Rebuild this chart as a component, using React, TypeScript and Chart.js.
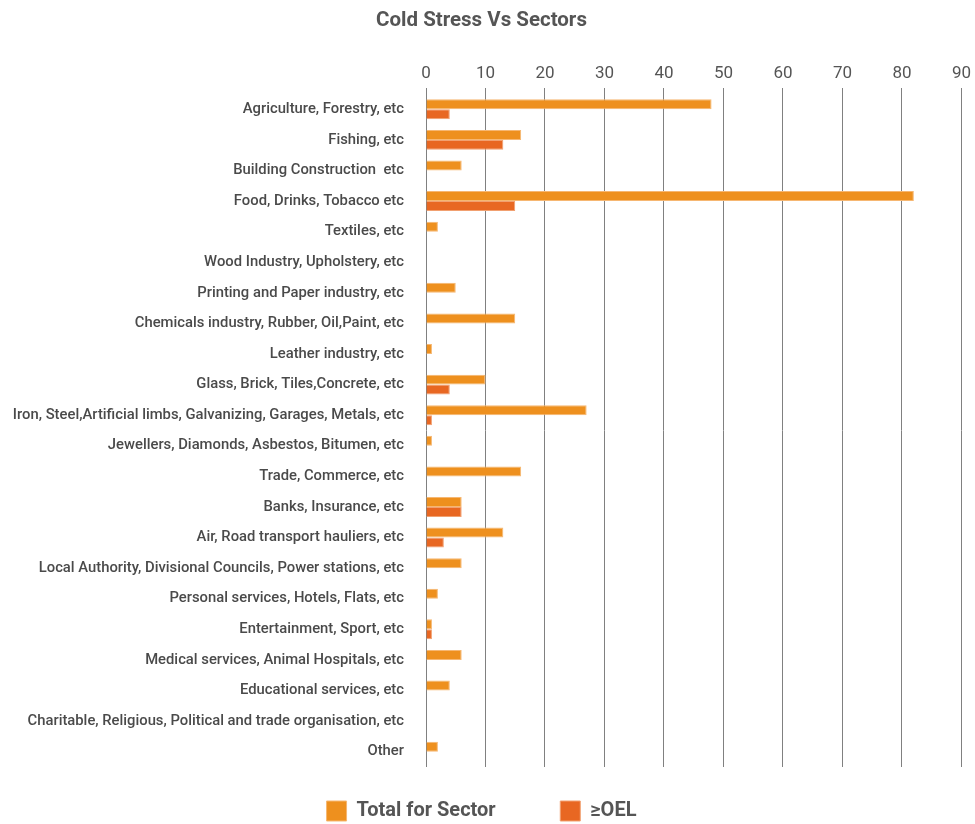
import React, { useEffect, useRef } from "react";
import { Chart, registerables } from "chart.js";

Chart.register(...registerables);

const categories = [
  "Agriculture, Forestry, etc",
  "Fishing, etc",
  "Building Construction  etc",
  "Food, Drinks, Tobacco etc",
  "Textiles, etc",
  "Wood Industry, Upholstery, etc",
  "Printing and Paper industry, etc",
  "Chemicals industry, Rubber, Oil,Paint, etc",
  "Leather industry, etc",
  "Glass, Brick, Tiles,Concrete, etc",
  "Iron, Steel,Artificial limbs, Galvanizing, Garages, Metals, etc",
  "Jewellers, Diamonds, Asbestos, Bitumen, etc",
  "Trade, Commerce, etc",
  "Banks, Insurance, etc",
  "Air, Road transport hauliers, etc",
  "Local Authority, Divisional Councils, Power stations, etc",
  "Personal services, Hotels, Flats, etc",
  "Entertainment, Sport, etc",
  "Medical services, Animal Hospitals, etc",
  "Educational services, etc",
  "Charitable, Religious, Political and trade organisation, etc",
  "Other",
];

const totalForSector = [48, 16, 6, 82, 2, 0, 5, 15, 1, 10, 27, 1, 16, 6, 13, 6, 2, 1, 6, 4, 0, 2];
const aboveOEL = [4, 13, 0, 15, 0, 0, 0, 0, 0, 4, 1, 0, 0, 6, 3, 0, 0, 1, 0, 0, 0, 0];

const xTicks = [0, 10, 20, 30, 40, 50, 60, 70, 80, 90];

const seriesNames = ["Total for Sector", "\u2265OEL"];

export default function App() {
  const ref = useRef<HTMLCanvasElement | null>(null);

  useEffect(() => {
    if (!ref.current) return;
    const fontFamily = "Roboto, 'Noto Sans', sans-serif";
    const chart = new Chart(ref.current, {
      type: "bar",
      data: {
        labels: categories,
        datasets: [
          {
            label: seriesNames[0],
            data: totalForSector,
            backgroundColor: "#EE901E",
            borderColor: "#F6B772",
            borderWidth: 1,
            barPercentage: 1,
            categoryPercentage: 0.652,
          },
          {
            label: seriesNames[1],
            data: aboveOEL,
            backgroundColor: "#E86722",
            borderColor: "#F1A070",
            borderWidth: 1,
            barPercentage: 1,
            categoryPercentage: 0.652,
          },
        ],
      },
      options: {
        indexAxis: "y",
        animation: false,
        responsive: true,
        maintainAspectRatio: false,
        layout: { padding: { left: 0, right: 12, top: 4, bottom: -7 } },
        scales: {
          x: {
            position: "top",
            min: 0,
            max: 90,
            afterBuildTicks: (axis: any) => {
              axis.ticks = xTicks.map((v) => ({ value: v }));
            },
            grid: { color: "#808080", lineWidth: 1, drawTicks: true, tickLength: 6 },
            border: { display: false },
            ticks: {
              color: "#555555",
              font: { family: fontFamily, size: 17 },
              padding: 4,
            },
          },
          y: {
            afterFit: (scale: any) => {
              scale.width = 426;
            },
            grid: { display: false, drawTicks: false },
            border: { display: false },
            ticks: {
              color: "#4a4a4a",
              font: { family: fontFamily, size: 14.8, weight: "500" },
              padding: 22,
              autoSkip: false,
            },
          },
        },
        plugins: {
          title: {
            display: true,
            text: "Cold Stress Vs Sectors",
            color: "#555555",
            font: { family: fontFamily, size: 20.5, weight: "bold" },
            padding: { top: 5, bottom: 26 },
          },
          legend: {
            position: "bottom",
            labels: {
              color: "#555555",
              boxWidth: 20,
              boxHeight: 20,
              padding: 34,
              font: { family: fontFamily, size: 20, weight: "bold" },
              generateLabels: (c: any) => {
                const items = Chart.defaults.plugins.legend.labels.generateLabels(c);
                return items.map((it: any, i: number) =>
                  i === 0 ? { ...it, text: it.text + "\u2003\u2002" } : it
                );
              },
            },
          },
          tooltip: { enabled: false },
        },
      },
    });
    return () => chart.destroy();
  }, []);

  return (
    <div style={{ position: "fixed", left: 0, top: 0, width: 975, height: 824, background: "#fff" }}>
      <canvas ref={ref} />
    </div>
  );
}
